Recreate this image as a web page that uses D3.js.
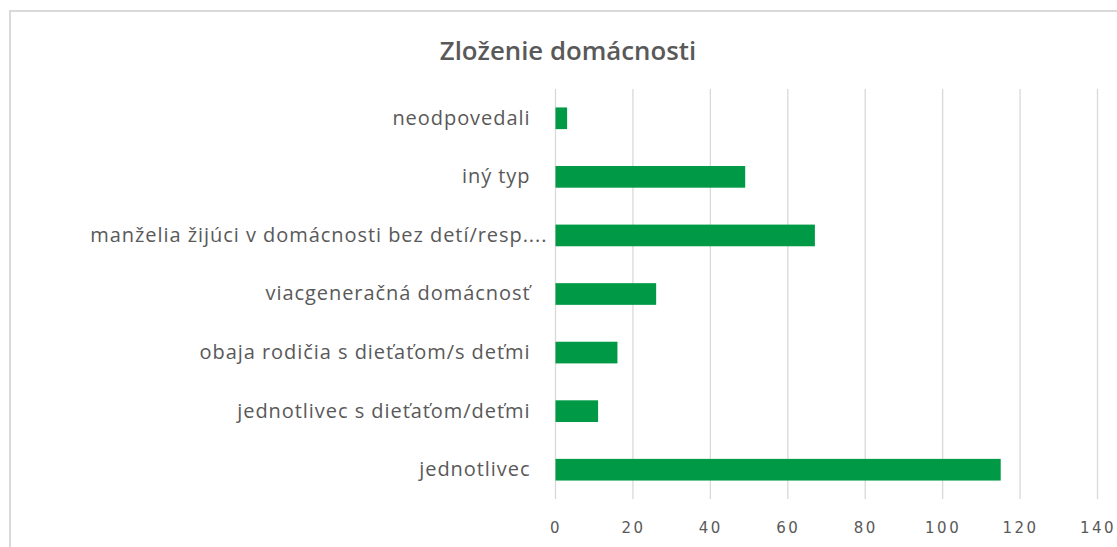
<!DOCTYPE html>
<html>
<head>
<meta charset="utf-8">
<script src="https://cdn.jsdelivr.net/npm/d3@7"></script>
<style>
  html, body { margin: 0; padding: 0; background: #fff; }
  svg { display: block; }
  text { font-family: "Open Sans", "Noto Sans", sans-serif; fill: #595959; }
</style>
</head>
<body>
<svg id="chart" width="1117" height="547"></svg>
<script>
const title = "Zloženie domácnosti";
const categories = [
  "neodpovedali",
  "iný typ",
  "manželia žijúci v domácnosti bez detí/resp....",
  "viacgeneračná domácnosť",
  "obaja rodičia s dieťaťom/s deťmi",
  "jednotlivec s dieťaťom/deťmi",
  "jednotlivec"
];
const values = [3, 49, 67, 26, 16, 11, 115];
const xTicks = [0, 20, 40, 60, 80, 100, 120, 140];

const svg = d3.select("#chart");
const W = 1117, H = 547;
const plot = { left: 555.5, right: 1097.5, top: 89, bottom: 499 };

// chart border
svg.append("rect")
  .attr("x", 10).attr("y", 11)
  .attr("width", W + 20).attr("height", H + 20)
  .attr("fill", "none").attr("stroke", "#d9d9d9").attr("stroke-width", 2);

const x = d3.scaleLinear().domain([0, 140]).range([plot.left, plot.right]);
const y = d3.scaleBand().domain(categories).range([plot.top, plot.bottom])
  .paddingInner(0.63).paddingOuter(0.315);

// gridlines
svg.append("g").selectAll("line").data(xTicks).join("line")
  .attr("x1", d => x(d)).attr("x2", d => x(d))
  .attr("y1", plot.top).attr("y2", plot.bottom)
  .attr("stroke", "#d9d9d9").attr("stroke-width", 1.3);

// bars
svg.append("g").selectAll("rect").data(categories).join("rect")
  .attr("x", x(0))
  .attr("y", (d) => y(d))
  .attr("width", (d, i) => x(values[i]) - x(0))
  .attr("height", y.bandwidth())
  .attr("fill", "#009a46");

// x axis tick labels
const xAxis = d3.axisBottom(x).tickValues(xTicks).tickSize(0).tickPadding(0);
const gx = svg.append("g").attr("transform", `translate(0,${plot.bottom + 20})`).call(xAxis);
gx.select(".domain").remove();
gx.selectAll("text")
  .attr("dy", "0.9em")
  .style("font-family", "'DejaVu Sans', sans-serif")
  .style("font-size", "15px")
  .style("letter-spacing", "2.5px")
  .style("fill", "#595959");

// y axis category labels
const yAxis = d3.axisLeft(y).tickSize(0).tickPadding(0);
const gy = svg.append("g").attr("transform", `translate(${plot.left - 25},0)`).call(yAxis);
gy.select(".domain").remove();
gy.selectAll("text")
  .attr("dy", "0.32em")
  .attr("x", d => d.endsWith("....") ? 17 : 0)
  .style("font-family", "'Open Sans', sans-serif")
  .style("font-size", "20px")
  .style("letter-spacing", "0.95px")
  .style("fill", "#595959");

// title
svg.append("text")
  .attr("x", 568).attr("y", 60)
  .attr("text-anchor", "middle")
  .style("font-size", "25.8px")
  .style("font-weight", "600")
  .style("fill", "#595959")
  .text(title);
</script>
</body>
</html>
